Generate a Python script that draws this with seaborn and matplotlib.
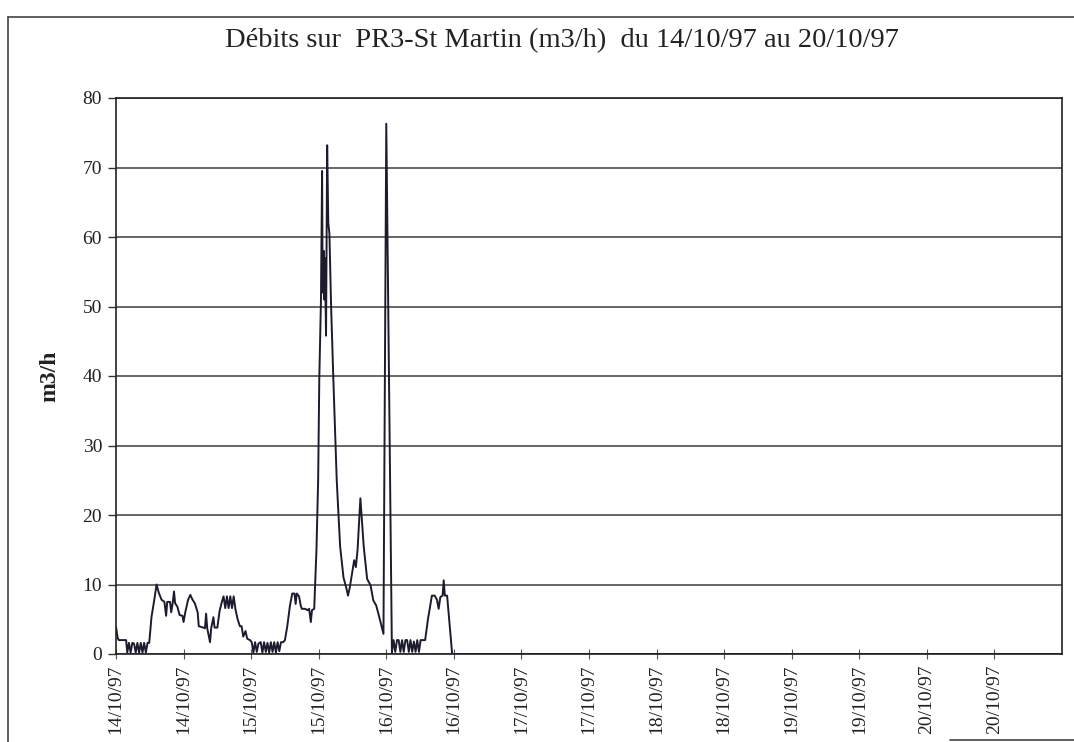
"""
Débits PR3-St Martin, 14/10/97 -> 20/10/97
line chart redrawn from a scanned Excel sheet
"""
import matplotlib
matplotlib.use('Agg')
import matplotlib.pyplot as plt
from matplotlib.lines import Line2D
import pandas as pd
import seaborn as sns

# hours since 14/10/97 00:00 and flow in m3/h
hours = [
    0, 0.3, 0.5, 1.8, 2.0, 2.3, 2.6, 2.9, 3.2, 3.5, 3.8, 4.1, 4.4, 4.7, 5.0, 5.3, 5.6, 5.9,
    6.3, 6.8, 7.2, 7.6, 8.1, 8.6, 8.9, 9.1, 9.6, 9.8, 10.1, 10.3, 10.5, 10.9, 11.3, 11.8,
    12.0, 12.3, 12.8, 13.2, 13.6, 14.0, 14.5, 14.7, 15.5, 15.8, 16.0, 16.2, 16.7, 16.9,
    17.3, 17.5, 18.0, 18.4, 18.8,
    19.1, 19.4, 19.7, 20.0, 20.3, 20.6, 20.9, 21.2, 21.6, 22.0, 22.3, 22.6, 23.0, 23.3, 23.8,
    24.1, 24.4, 24.7, 25.0, 25.3, 25.7, 26.0, 26.3, 26.6, 26.9, 27.2, 27.5, 27.8, 28.1,
    28.4, 28.7, 29.0, 29.3, 29.7, 30.0,
    30.4, 30.9, 31.3, 31.7, 31.9, 32.1, 32.5, 32.8, 33.0, 33.6, 34.0, 34.3, 34.6, 34.8, 35.2,
    35.6, 35.9, 36.1, 36.4, 36.6, 36.7, 36.9, 37.0, 37.1, 37.3, 37.4, 37.5, 37.7, 37.9,
    38.2, 38.6, 39.2, 39.8, 40.4, 40.9, 41.2, 41.5, 41.9, 42.3, 42.6, 42.9, 43.4, 44.0,
    44.6, 45.2, 45.7, 46.2, 46.6, 47.0, 47.2, 47.5,
    48.0, 49.0,
    49.3, 49.6, 49.9, 50.2, 50.5, 50.8, 51.1, 51.4, 51.7, 52.0, 52.3, 52.6, 52.9, 53.2,
    53.5, 53.8, 54.1, 54.6, 54.9,
    55.4, 56.1, 56.6, 57.0, 57.3, 57.6, 58.0, 58.2, 58.4, 58.8, 59.7, 168,
]
flow = [
    3.9, 2.3, 2.0, 2.0, 0.2, 1.6, 0.2, 1.6, 1.5, 0.2, 1.6, 0.2, 1.6, 0.2, 1.6, 0.2, 1.6, 1.6,
    5.3, 7.8, 10.0, 8.8, 7.8, 7.5, 5.5, 7.5, 7.5, 6.0, 7.5, 9.0, 7.3, 6.8, 5.6, 5.5,
    4.6, 6.0, 7.8, 8.5, 7.8, 7.3, 6.0, 4.0, 3.8, 3.7, 5.8, 3.7, 1.7, 3.7,
    5.3, 3.8, 3.8, 6.2, 7.5,
    8.3, 6.6, 8.3, 6.6, 8.3, 6.6, 8.3, 6.5, 5.0, 4.0, 4.0, 2.5, 3.3, 2.2, 2.0,
    1.7, 0.2, 1.7, 0.3, 1.5, 1.7, 0.2, 1.7, 0.3, 1.6, 0.2, 1.7, 0.3, 1.7,
    0.2, 1.7, 0.4, 1.7, 1.7, 2.0,
    3.9, 7.0, 8.7, 8.7, 7.2, 8.7, 8.3, 7.0, 6.5, 6.5, 6.3, 6.5, 4.6, 6.3, 6.5,
    15.0, 25.0, 39.5, 51.0, 69.5, 52.0, 58.0, 51.0, 57.0, 45.8, 60.0, 73.2, 62.0, 60.5,
    50.0, 39.5, 25.0, 15.5, 11.0, 9.5, 8.4, 9.5, 11.5, 13.5, 12.5, 15.0, 22.4, 15.4,
    10.8, 9.9, 7.7, 7.0, 5.8, 4.5, 3.9, 2.9,
    76.3, 0.2,
    2.0, 0.3, 2.0, 2.0, 0.3, 2.0, 0.3, 2.0, 2.0, 0.3, 2.0, 0.3, 1.8, 0.3,
    2.0, 0.3, 2.0, 2.0, 2.0,
    5.0, 8.4, 8.4, 7.8, 6.5, 8.2, 8.4, 10.6, 8.4, 8.4, 0.0, 0.0,
]
tick_hours = list(range(0, 168, 12))
tick_labels = ['14/10/97', '14/10/97', '15/10/97', '15/10/97', '16/10/97', '16/10/97',
               '17/10/97', '17/10/97', '18/10/97', '18/10/97', '19/10/97', '19/10/97',
               '20/10/97', '20/10/97']
y_ticks = [0, 10, 20, 30, 40, 50, 60, 70, 80]

title = 'Débits sur  PR3-St Martin (m3/h)  du 14/10/97 au 20/10/97'
INK = '#1c1c2e'; GRID = '#4d4d4d'

sns.set_theme(style='white')
plt.rcParams['font.family'] = ['Liberation Serif', 'DejaVu Serif']

df = pd.DataFrame({'h': hours, 'q': flow})

fig = plt.figure(figsize=(10.74, 7.42), dpi=100)
ax = fig.add_axes([116/1074, 1-654/742, (1062-116)/1074, (654-98)/742])
sns.lineplot(data=df, x='h', y='q', ax=ax, color=INK, linewidth=1.4)

ax.set_xlim(0, 168); ax.set_ylim(0, 80)
ax.set_yticks(y_ticks)
ax.set_yticklabels([str(v) for v in y_ticks], fontsize=14, color='#222222')
ax.set_xticks(tick_hours)
ax.set_xticklabels(tick_labels, rotation=90, fontsize=14, color='#222222')
ax.tick_params(axis='y', direction='out', length=6, width=1, color='#333333', left=True, pad=4)
ax.tick_params(axis='x', direction='inout', length=7, width=0.8, color='#555555', bottom=True, pad=4)
ax.yaxis.grid(True, color=GRID, linewidth=1.2)
ax.xaxis.grid(False)
for s in ax.spines.values():
    s.set_edgecolor('#222222'); s.set_linewidth(1.2)
ax.set_xlabel('')
ax.set_ylabel('m3/h', fontsize=17, fontweight='bold', color='#222222', labelpad=16)

fig.text(562/1074, 1-41/742, title, ha='center', va='center', fontsize=20.5, color='#222222')

# chart area border from the scan
fig.add_artist(Line2D([8/1074, 8/1074], [0, 1-17/742], color='#444444', lw=1.2))
fig.add_artist(Line2D([8/1074, 1], [1-17/742, 1-17/742], color='#444444', lw=1.2))
fig.add_artist(Line2D([950/1074, 1], [2/742, 2/742], color='#444444', lw=1.2))

fig.savefig('out.png', dpi=100, facecolor='white')
